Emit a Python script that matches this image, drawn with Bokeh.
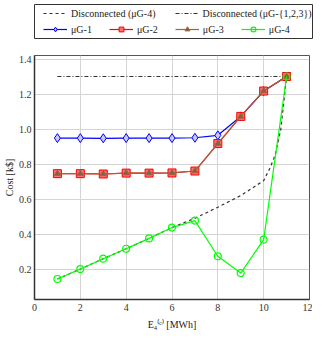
from bokeh.plotting import figure
from bokeh.layouts import column
from bokeh.models import Range1d, Legend, LegendItem, PrintfTickFormatter, FixedTicker
from bokeh.embed import file_html
from bokeh.resources import INLINE

# ---- data ----
energy = [1, 2, 3, 4, 5, 6, 7, 8, 9, 10, 11]
mg1 = [0.948, 0.948, 0.947, 0.948, 0.948, 0.948, 0.950, 0.964, 1.072, 1.217, 1.300]
mg2 = [0.745, 0.745, 0.743, 0.748, 0.748, 0.749, 0.760, 0.917, 1.072, 1.217, 1.300]
mg3 = [0.745, 0.745, 0.743, 0.748, 0.748, 0.749, 0.760, 0.917, 1.072, 1.217, 1.300]
mg4 = [0.143, 0.200, 0.259, 0.316, 0.375, 0.437, 0.477, 0.273, 0.177, 0.368, 1.300]
disc4_x = [1, 2, 3, 4, 5, 6, 7, 8, 9, 10, 10.25, 10.5, 10.75, 11]
disc4 = [0.143, 0.200, 0.259, 0.316, 0.375, 0.437, 0.490, 0.553, 0.620, 0.705, 0.770, 0.850, 1.000, 1.300]
disc123_x = [1, 11]
disc123 = [1.300, 1.300]
x_ticks = [0, 2, 4, 6, 8, 10, 12]
y_ticks = [0.2, 0.4, 0.6, 0.8, 1.0, 1.2, 1.4]

FONT = "Liberation Serif"
BLUE = "#0000ff"
RED = "#ff0000"
BROWN = "#a0643c"
GREEN = "#00ff00"
NAN = [float("nan")]

# ---- main plot ----
p = figure(width=312, height=293, output_backend="svg", toolbar_location=None,
           x_range=Range1d(0, 12), y_range=Range1d(0.026, 1.42),
           min_border_left=27, min_border_right=3, min_border_top=16, min_border_bottom=33)
p.background_fill_color = None
p.border_fill_color = None
p.outline_line_color = "#555555"
p.outline_line_width = 1

p.xaxis.ticker = FixedTicker(ticks=x_ticks)
p.yaxis.ticker = FixedTicker(ticks=y_ticks)
p.yaxis.formatter = PrintfTickFormatter(format="%.1f")
for ax in (p.xaxis, p.yaxis):
    ax.major_tick_out = 0
    ax.major_tick_in = 0
    ax.minor_tick_out = 0
    ax.minor_tick_in = 0
    ax.axis_line_color = "#333333"
    ax.axis_line_width = 1.5
    ax.major_label_text_font = FONT
    ax.major_label_text_font_size = "10px"
    ax.major_label_text_color = "#333333"
    ax.axis_label_text_font = FONT
    ax.axis_label_text_font_size = "10px"
    ax.axis_label_text_font_style = "normal"
    ax.axis_label_text_color = "#222222"
p.xaxis.major_label_standoff = 4
p.yaxis.major_label_standoff = 3
p.xaxis.axis_label = "E\u2084\u207d\u1d9c\u207e [MWh]"
p.yaxis.axis_label = "Cost [k$]"
p.xaxis.axis_label_standoff = 5
p.yaxis.axis_label_standoff = 1
p.grid.grid_line_color = "#d4d4d4"
p.grid.grid_line_width = 1

p.line(disc4_x, disc4, line_color="#333333", line_width=1.2, line_dash="3 3")
p.line(disc123_x, disc123, line_color="#333333", line_width=1.2, line_dash="4 2 1 2")
p.line(energy, mg1, line_color=BLUE, line_width=1.2)
p.scatter(energy, mg1, marker="diamond", size=9, line_color=BLUE, fill_color="#c8c8ff", line_width=1)
p.line(energy, mg2, line_color=RED, line_width=1.2)
p.scatter(energy, mg2, marker="square", size=8, line_color=RED, fill_color="#ff7070", line_width=1)
p.line(energy, mg3, line_color=BROWN, line_width=1.2)
p.scatter(energy, mg3, marker="triangle", size=6, line_color=BROWN, fill_color="#806050", line_width=1)
p.line(energy, mg4, line_color=GREEN, line_width=1.2)
p.scatter(energy, mg4, marker="circle", size=7, line_color=GREEN, fill_color=None, line_width=1.2)

# ---- legend box (separate figure) ----
lg = figure(width=315, height=39, output_backend="svg", toolbar_location=None,
            x_axis_type=None, y_axis_type=None,
            x_range=Range1d(0, 1), y_range=Range1d(0, 1),
            min_border_left=24, min_border_right=1, min_border_top=4, min_border_bottom=1)
lg.grid.visible = False
lg.outline_line_color = "#333333"
lg.outline_line_width = 1
lg.background_fill_color = None
lg.border_fill_color = None

r_d4 = lg.line(NAN, NAN, line_color="#333333", line_width=1.2, line_dash="3 3")
r_d123 = lg.line(NAN, NAN, line_color="#333333", line_width=1.2, line_dash="4 2 1 2")
r1l = lg.line(NAN, NAN, line_color=BLUE, line_width=1.2)
r1m = lg.scatter(NAN, NAN, marker="diamond", size=9, line_color=BLUE, fill_color="#c8c8ff")
r2l = lg.line(NAN, NAN, line_color=RED, line_width=1.2)
r2m = lg.scatter(NAN, NAN, marker="square", size=8, line_color=RED, fill_color="#ff7070")
r3l = lg.line(NAN, NAN, line_color=BROWN, line_width=1.2)
r3m = lg.scatter(NAN, NAN, marker="triangle", size=6, line_color=BROWN, fill_color="#806050")
r4l = lg.line(NAN, NAN, line_color=GREEN, line_width=1.2)
r4m = lg.scatter(NAN, NAN, marker="circle", size=7, line_color=GREEN, fill_color=None, line_width=1.2)

def make_legend(items, loc, spacing):
    return Legend(items=items, location=loc, orientation="horizontal",
                  glyph_width=24, glyph_height=12, label_height=12,
                  label_standoff=4, spacing=spacing, padding=0, margin=0,
                  border_line_color=None, background_fill_alpha=0,
                  label_text_font=FONT, label_text_font_size="10px",
                  label_text_color="#222222")

leg1 = make_legend([LegendItem(label="Disconnected (\u03bcG-4)", renderers=[r_d4]),
                    LegendItem(label="Disconnected (\u03bcG-{1,2,3})", renderers=[r_d123])],
                   (9, 19), 19)
leg2 = make_legend([LegendItem(label="\u03bcG-1", renderers=[r1l, r1m]),
                    LegendItem(label="\u03bcG-2", renderers=[r2l, r2m]),
                    LegendItem(label="\u03bcG-3", renderers=[r3l, r3m]),
                    LegendItem(label="\u03bcG-4", renderers=[r4l, r4m])],
                   (9, 3), 17)
lg.add_layout(leg1, "center")
lg.add_layout(leg2, "center")

layout = column(lg, p, spacing=0)
open("out.html", "w").write(file_html(layout, INLINE))
